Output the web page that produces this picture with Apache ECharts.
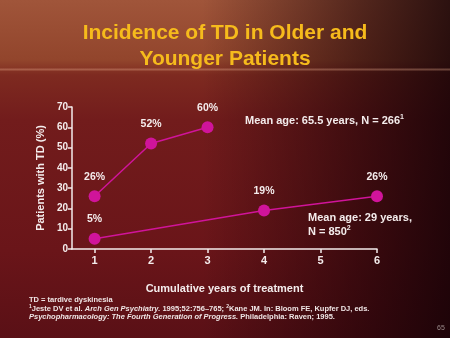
<!DOCTYPE html>
<html>
<head>
<meta charset="utf-8">
<script src="https://cdn.jsdelivr.net/npm/echarts@6/dist/echarts.min.js"></script>
<style>
  html, body { margin: 0; padding: 0; }
  body {
    width: 450px; height: 338px; overflow: hidden; position: relative;
    background:
      linear-gradient(to bottom, rgba(0,0,0,0) 0px, rgba(0,0,0,0) 68px, rgba(230,170,140,0.35) 69px, rgba(230,170,140,0.35) 70px, rgba(0,0,0,0) 71px),
      linear-gradient(to right, rgba(20,0,5,0) 0%, rgba(20,0,5,0) 45%, rgba(20,0,5,0.55) 80%, rgba(15,0,5,0.8) 100%),
      linear-gradient(to bottom, #a0553a 0px, #92452c 60px, #7e2a20 75px, #721c1c 120px, #6a1519 250px, #5a1016 338px);
  }
  #chart { position: absolute; left: 0; top: 0; width: 450px; height: 338px; }
</style>
</head>
<body>
<div id="chart"></div>
<script>
// Years of treatment and cumulative TD incidence (%)
const olderYears = [1, 2, 3];
const olderValues = [26, 52, 60];
const olderLabels = ['26%', '52%', '60%'];

const youngerYears = [1, 4, 6];
const youngerValues = [5, 19, 26];
const youngerLabels = ['5%', '19%', '26%'];

const xTicks = [1, 2, 3, 4, 5, 6];
const yTicks = [0, 10, 20, 30, 40, 50, 60, 70];

const titleLines = ['Incidence of TD in Older and', 'Younger Patients'];
const olderNote = 'Mean age: 65.5 years, N = 266';
const youngerNote = ['Mean age: 29 years,', 'N = 850'];

const white = '#f4ecec';
const magenta = '#d0149a';
const fontFamily = '"Liberation Sans", Arial, sans-serif';

function pairs(xs, ys) { return xs.map((x, i) => [x, ys[i]]); }

const chart = echarts.init(document.getElementById('chart'), null, { renderer: 'canvas' });

function makeSeries(name, xs, ys, labels) {
  return {
    name: name,
    type: 'line',
    data: pairs(xs, ys),
    symbol: 'circle',
    symbolSize: 12,
    lineStyle: { color: magenta, width: 1.5 },
    itemStyle: { color: magenta },
    label: {
      show: true,
      position: 'top',
      distance: 8,
      color: white,
      fontFamily: fontFamily,
      fontWeight: 'bold',
      fontSize: 10.5,
      formatter: p => labels[p.dataIndex]
    },
    emphasis: { disabled: true },
    animation: false
  };
}

chart.setOption({
  backgroundColor: 'transparent',
  animation: false,
  title: {
    text: titleLines.join('\n'),
    left: 'center',
    top: 15,
    textStyle: {
      color: '#f6bb1c',
      fontFamily: fontFamily,
      fontWeight: 'bold',
      fontSize: 21,
      lineHeight: 26
    }
  },
  grid: { left: 72, right: 73, top: 107, bottom: 89, containLabel: false },
  xAxis: {
    type: 'value',
    min: 0.6,
    max: 6,
    name: 'Cumulative years of treatment',
    nameLocation: 'middle',
    nameGap: 34,
    nameTextStyle: { color: white, fontFamily: fontFamily, fontWeight: 'bold', fontSize: 11 },
    axisLine: { show: true, lineStyle: { color: white, width: 1.5 } },
    axisTick: { show: true, length: 4, customValues: xTicks, lineStyle: { color: white, width: 1.5 } },
    axisLabel: {
      color: white, fontFamily: fontFamily, fontWeight: 'bold', fontSize: 11, margin: 6,
      customValues: xTicks
    },
    splitLine: { show: false }
  },
  yAxis: {
    type: 'value',
    min: 0,
    max: 70,
    interval: 10,
    name: 'Patients with TD (%)',
    nameLocation: 'middle',
    nameGap: 22,
    nameRotate: 90,
    nameTextStyle: { color: white, fontFamily: fontFamily, fontWeight: 'bold', fontSize: 11 },
    axisLine: { show: true, lineStyle: { color: white, width: 1.5 } },
    axisTick: { show: true, length: 4, lineStyle: { color: white, width: 1.5 } },
    axisLabel: {
      color: white, fontFamily: fontFamily, fontWeight: 'bold', fontSize: 10, margin: 4,
      customValues: yTicks
    },
    splitLine: { show: false }
  },
  series: [
    makeSeries('Older', olderYears, olderValues, olderLabels),
    makeSeries('Younger', youngerYears, youngerValues, youngerLabels)
  ],
  graphic: [
    {
      type: 'text', left: 245, top: 114,
      style: {
        text: '{t|' + olderNote + '}{s|1}',
        rich: {
          t: { fill: white, font: 'bold 11px ' + fontFamily },
          s: { fill: white, font: 'bold 7px ' + fontFamily, verticalAlign: 'top', padding: [0, 0, 6, 0] }
        }
      }
    },
    {
      type: 'text', left: 308, top: 212,
      style: {
        text: '{t|' + youngerNote[0] + '}\n{t|' + youngerNote[1] + '}{s|2}',
        rich: {
          t: { fill: white, font: 'bold 11px ' + fontFamily, lineHeight: 14 },
          s: { fill: white, font: 'bold 7px ' + fontFamily, verticalAlign: 'top', padding: [0, 0, 6, 0] }
        }
      }
    },
    {
      type: 'text', left: 29, top: 296,
      style: {
        text: '{b|TD = tardive dyskinesia}\n{s|1}{b|Jeste DV et al. }{i|Arch Gen Psychiatry.}{b| 1995;52:756–765; }{s|2}{b|Kane JM. In: Bloom FE, Kupfer DJ, eds.}\n{i|Psychopharmacology: The Fourth Generation of Progress.}{b| Philadelphia: Raven; 1995.}',
        rich: {
          b: { fill: '#f0e6e6', font: 'bold 7.5px ' + fontFamily, lineHeight: 8.5 },
          i: { fill: '#f0e6e6', font: 'italic bold 7.5px ' + fontFamily, lineHeight: 8.5 },
          s: { fill: '#f0e6e6', font: 'bold 5px ' + fontFamily, verticalAlign: 'top' }
        }
      }
    },
    {
      type: 'text', left: 437, top: 325,
      style: { text: '65', fill: '#9a8a8a', font: '7px ' + fontFamily }
    }
  ]
});
</script>
</body>
</html>
